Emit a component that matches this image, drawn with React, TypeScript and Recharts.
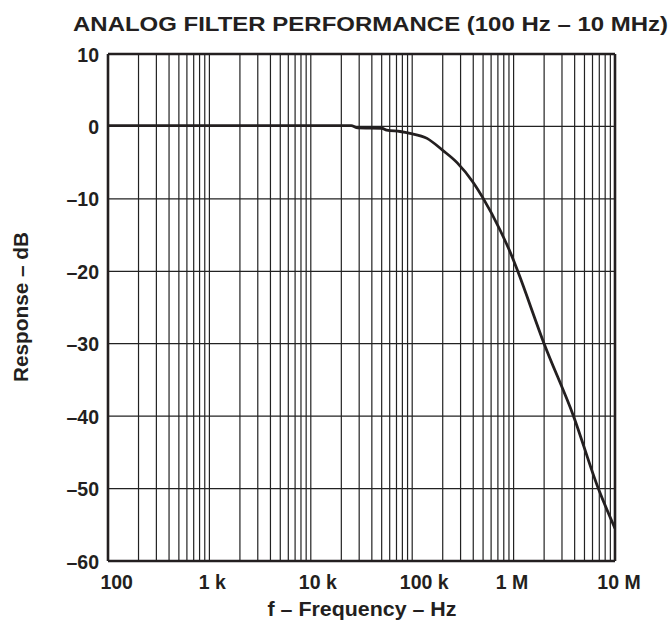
import React from 'react';
import { LineChart, Line, XAxis, YAxis, ReferenceLine } from 'recharts';

// ---- data ----
const FREQ_HZ = [100, 1000, 10000, 25000, 29000, 50000, 56000, 76000, 95000, 140000, 200000, 277000, 398000, 495000, 735000, 1000000, 1100000, 2000000, 3900000, 6850000, 10000000];
const RESPONSE_DB = [0.1, 0.1, 0.1, 0.1, -0.2, -0.25, -0.5, -0.7, -0.95, -1.65, -3.3, -5.0, -7.7, -9.8, -14.3, -18.5, -20, -30, -40, -50, -55.5];

const X_TICKS = [100, 1000, 10000, 100000, 1000000, 10000000];
const X_TICK_LABELS = ['100', '1 k', '10 k', '100 k', '1 M', '10 M'];
const Y_TICKS = [10, 0, -10, -20, -30, -40, -50, -60];
const Y_TICK_LABELS = ['10', '0', '–10', '–20', '–30', '–40', '–50', '–60'];

const GRID_DECADES = [100, 1000, 10000, 100000, 1000000];
const GRID_MULTIPLIERS = [1, 2, 3, 4, 5, 6, 7, 8, 9];
const H_GRID_DB = [0, -10, -20, -30, -40, -50];

const TITLE = 'ANALOG FILTER PERFORMANCE (100 Hz – 10 MHz)';
const X_TITLE = 'f – Frequency – Hz';
const Y_TITLE = 'Response – dB';

const data = FREQ_HZ.map((f, i) => ({ f, db: RESPONSE_DB[i] }));
const vGrid = GRID_DECADES.flatMap((d) => GRID_MULTIPLIERS.map((m) => m * d)).filter((f) => f > 100);

// ---- style ----
const FONT = '"Liberation Sans", Arial, Helvetica, sans-serif';
const INK = '#231f20';
const GRID = '#222';
const X_LABEL_DX: Record<number, number> = { 100: 8.7, 1000: 3, 10000: 7, 100000: 12, 1000000: -1.6, 10000000: 4 };

const XTick = (props: any) => {
  const { x, y, payload } = props;
  const i = X_TICKS.indexOf(payload.value);
  return (
    <text
      x={x + (X_LABEL_DX[payload.value] || 0)}
      y={y + 26}
      textAnchor="middle"
      fontFamily={FONT}
      fontWeight="bold"
      fontSize={19.5}
      fill={INK}
    >
      {X_TICK_LABELS[i]}
    </text>
  );
};

const YTick = (props: any) => {
  const { x, y, payload } = props;
  const i = Y_TICKS.indexOf(payload.value);
  return (
    <text
      x={x - 7}
      y={y + 7.5}
      textAnchor="end"
      fontFamily={FONT}
      fontWeight="bold"
      fontSize={19.5}
      fill={INK}
    >
      {Y_TICK_LABELS[i]}
    </text>
  );
};

export default function App() {
  return (
    <div style={{ position: 'absolute', left: 0, top: 0, width: 670, height: 621, background: '#fff' }}>
      <LineChart width={670} height={621} data={data} margin={{ top: 54, right: 55, bottom: 0, left: 48 }}>
        <XAxis
          type="number"
          dataKey="f"
          scale="log"
          domain={[100, 10000000]}
          ticks={X_TICKS}
          interval={0}
          allowDataOverflow
          height={60}
          tick={<XTick />}
          tickLine={false}
          tickSize={0}
          axisLine={{ stroke: INK, strokeWidth: 2.6 }}
        />
        <YAxis
          type="number"
          domain={[-60, 10]}
          ticks={Y_TICKS}
          interval={0}
          allowDataOverflow
          width={60}
          tick={<YTick />}
          tickLine={false}
          tickSize={0}
          axisLine={{ stroke: INK, strokeWidth: 2.6 }}
        />
        {vGrid.map((f) => (
          <ReferenceLine key={'v' + f} x={f} stroke={GRID} strokeWidth={1.2} ifOverflow="visible" />
        ))}
        {H_GRID_DB.map((d) => (
          <ReferenceLine key={'h' + d} y={d} stroke={GRID} strokeWidth={1.2} ifOverflow="visible" />
        ))}
        <ReferenceLine y={10} stroke={INK} strokeWidth={2.6} ifOverflow="visible" />
        <ReferenceLine x={10000000} stroke={INK} strokeWidth={2.6} ifOverflow="visible" />
        <Line
          type="monotone"
          dataKey="db"
          stroke={INK}
          strokeWidth={2.8}
          dot={false}
          isAnimationActive={false}
        />
      </LineChart>
      <svg width={670} height={621} style={{ position: 'absolute', left: 0, top: 0, pointerEvents: 'none' }}>
        <text
          x={73}
          y={31}
          textLength={595}
          lengthAdjust="spacingAndGlyphs"
          fontFamily={FONT}
          fontWeight="bold"
          fontSize={19.5}
          fill={INK}
        >
          {TITLE}
        </text>
        <text
          x={362}
          y={616}
          textAnchor="middle"
          textLength={189}
          lengthAdjust="spacingAndGlyphs"
          fontFamily={FONT}
          fontWeight="bold"
          fontSize={19.5}
          fill={INK}
        >
          {X_TITLE}
        </text>
        <text
          x={28}
          y={307}
          transform="rotate(-90 28 307)"
          textAnchor="middle"
          textLength={150}
          lengthAdjust="spacingAndGlyphs"
          fontFamily={FONT}
          fontWeight="bold"
          fontSize={19.5}
          fill={INK}
        >
          {Y_TITLE}
        </text>
      </svg>
    </div>
  );
}
